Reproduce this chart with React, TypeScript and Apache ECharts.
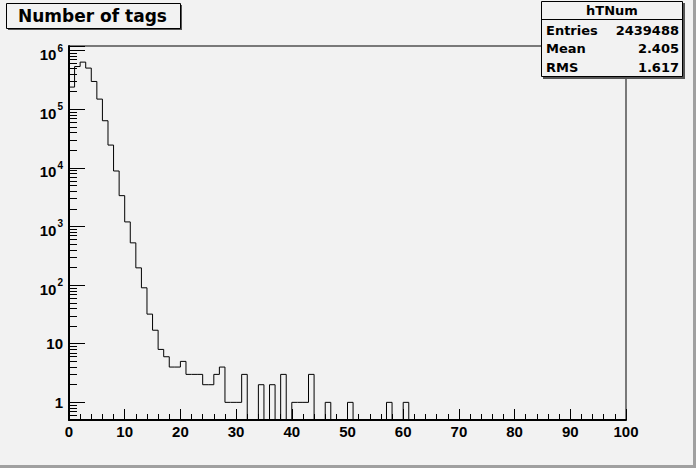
import React, { useEffect, useRef } from "react";
import * as echarts from "echarts";

// ---- data ----
const TITLE = "Number of tags";
const HIST_NAME = "hTNum";
const STAT_LABELS = ["Entries", "Mean", "RMS"];
const STAT_VALUES = ["2439488", "2.405", "1.617"];

const X_MIN = 0;
const X_MAX = 100;
const X_INTERVAL = 10;
const Y_MIN = 0.5;
const Y_MAX = 1.2e6;

// bin contents, bins [k, k+1) for k = 0..99
const counts: number[] = [
  239000, 536000, 637000, 504000, 298000, 149000, 63700, 24500, 8850, 3360,
  1197, 526, 197, 90, 32, 17, 8, 6, 4, 4,
  5, 3, 3, 3, 2, 2, 3, 4, 1, 1,
  1, 3, 0, 0, 2, 0, 2, 0, 3, 0,
  1, 1, 1, 3, 0, 0, 1, 0, 0, 0,
  1, 0, 0, 0, 0, 0, 0, 1, 0, 0,
  1, 0, 0, 0, 0, 0, 0, 0, 0, 0,
  0, 0, 0, 0, 0, 0, 0, 0, 0, 0,
  0, 0, 0, 0, 0, 0, 0, 0, 0, 0,
  0, 0, 0, 0, 0, 0, 0, 0, 0, 0,
];

const BG = "#f2f2f2";
const BOX_FONT = "DejaVu Sans";
const AXIS_FONT = "Liberation Sans";

export default function App() {
  const ref = useRef<HTMLDivElement>(null);

  useEffect(() => {
    if (!ref.current) return;
    const chart = echarts.init(ref.current, undefined, { renderer: "svg" });

    // step outline: one point per bin low edge, plus the last upper edge
    const stepData: [number, number][] = counts.map((c, i) => [X_MIN + i, c > 0 ? c : Y_MIN]);
    const last = counts[counts.length - 1];
    stepData.push([X_MIN + counts.length, last > 0 ? last : Y_MIN]);

    const statTexts: any[] = [];
    const rowY = [30, 48.5, 67];
    STAT_LABELS.forEach((lab, i) => {
      statTexts.push({
        type: "text",
        z: 102,
        x: 546,
        y: rowY[i],
        style: {
          text: lab,
          fontFamily: BOX_FONT,
          fontWeight: "bold",
          fontSize: 13,
          fill: "#000",
          align: "left",
          verticalAlign: "middle",
        },
      });
      statTexts.push({
        type: "text",
        z: 102,
        x: 679,
        y: rowY[i],
        style: {
          text: STAT_VALUES[i],
          fontFamily: BOX_FONT,
          fontWeight: "bold",
          fontSize: 13,
          fill: "#000",
          align: "right",
          verticalAlign: "middle",
        },
      });
    });

    const option: any = {
      animation: false,
      backgroundColor: BG,
      textStyle: { fontFamily: AXIS_FONT },
      grid: {
        left: 69,
        right: 70,
        top: 46,
        bottom: 48,
        show: true,
        borderColor: "#000",
        borderWidth: 1,
        backgroundColor: "transparent",
      },
      xAxis: {
        type: "value",
        min: X_MIN,
        max: X_MAX,
        interval: X_INTERVAL,
        axisLine: { show: true, onZero: false, lineStyle: { color: "#000", width: 2 } },
        axisTick: { show: true, inside: true, length: 11, lineStyle: { color: "#000", width: 1 } },
        minorTick: { show: true, splitNumber: 5, length: 6, lineStyle: { color: "#000", width: 1 } },
        splitLine: { show: false },
        axisLabel: {
          margin: 4,
          color: "#000",
          fontFamily: AXIS_FONT,
          fontWeight: "bold",
          fontSize: 15,
        },
      },
      yAxis: {
        type: "log",
        logBase: 10,
        min: Y_MIN,
        max: Y_MAX,
        splitNumber: 6,
        axisLine: { show: true, lineStyle: { color: "#000", width: 2 } },
        axisTick: { show: true, inside: true, length: 16, lineStyle: { color: "#000", width: 1 } },
        minorTick: { show: true, splitNumber: 9, length: 8, lineStyle: { color: "#000", width: 1 } },
        splitLine: { show: false },
        axisLabel: {
          margin: 6,
          showMinLabel: false,
          showMaxLabel: false,
          color: "#000",
          fontFamily: AXIS_FONT,
          fontWeight: "bold",
          fontSize: 15,
          formatter: (v: number) => {
            const e = Math.round(Math.log10(v));
            if (e === 0) return "1";
            if (e === 1) return "10";
            return "{b|10}{e|" + e + "}";
          },
          rich: {
            b: {
              fontFamily: AXIS_FONT,
              fontWeight: "bold",
              fontSize: 15,
              lineHeight: 15,
              padding: [8, 0, 0, 0],
              color: "#000",
            },
            e: {
              fontFamily: AXIS_FONT,
              fontWeight: "bold",
              fontSize: 10,
              lineHeight: 10,
              padding: [4, 0, 9, 1],
              color: "#000",
            },
          },
        },
      },
      series: [
        {
          type: "line",
          step: "end",
          data: stepData,
          showSymbol: false,
          symbol: "none",
          clip: true,
          lineStyle: { color: "#000", width: 1 },
          z: 5,
        },
      ],
      graphic: [
        // canvas bevel
        { type: "rect", z: 90, shape: { x: 693, y: 0, width: 3, height: 468 }, style: { fill: "#a0a0a0" } },
        { type: "rect", z: 90, shape: { x: 0, y: 465, width: 696, height: 3 }, style: { fill: "#a0a0a0" } },
        // title box
        { type: "rect", z: 99, shape: { x: 8, y: 5, width: 174, height: 25 }, style: { fill: "#555" } },
        {
          type: "rect",
          z: 100,
          shape: { x: 6.5, y: 3.5, width: 174, height: 25 },
          style: { fill: BG, stroke: "#000", lineWidth: 1 },
        },
        {
          type: "text",
          z: 101,
          x: 18,
          y: 16,
          style: {
            text: TITLE,
            fontFamily: BOX_FONT,
            fontWeight: "bold",
            fontSize: 17,
            fill: "#000",
            align: "left",
            verticalAlign: "middle",
          },
        },
        // stats box
        { type: "rect", z: 99, shape: { x: 543, y: 3, width: 142, height: 76 }, style: { fill: "#555" } },
        {
          type: "rect",
          z: 100,
          shape: { x: 541.5, y: 1.5, width: 141, height: 75 },
          style: { fill: BG, stroke: "#000", lineWidth: 1 },
        },
        {
          type: "line",
          z: 101,
          shape: { x1: 541.5, y1: 19.5, x2: 682.5, y2: 19.5 },
          style: { stroke: "#000", lineWidth: 1 },
        },
        {
          type: "text",
          z: 102,
          x: 612,
          y: 10.5,
          style: {
            text: HIST_NAME,
            fontFamily: BOX_FONT,
            fontWeight: "bold",
            fontSize: 13,
            fill: "#000",
            align: "center",
            verticalAlign: "middle",
          },
        },
        ...statTexts,
      ],
    };

    chart.setOption(option);
    return () => {
      chart.dispose();
    };
  }, []);

  return (
    <div
      ref={ref}
      style={{ position: "absolute", left: 0, top: 0, width: 696, height: 468 }}
    />
  );
}
